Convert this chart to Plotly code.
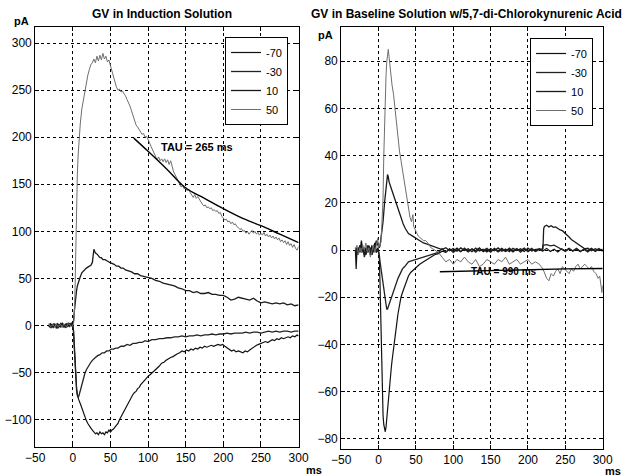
import plotly.graph_objects as go

# ---------------- DATA ----------------
legend_labels = ["-70", "-30", "10", "50"]
x_ticks = [-50, 0, 50, 100, 150, 200, 250, 300]
left_y_ticks = [-100, -50, 0, 50, 100, 150, 200, 250, 300]
right_y_ticks = [-80, -60, -40, -20, 0, 20, 40, 60, 80]

# Left panel: GV in Induction Solution  (t ms, current pA)
L_m70 = [(-32,0),(-30,-2),(-28,1),(-26,-1),(-24,2),(-22,-3),(-20,0),(-18,1),(-16,-2),(-14,2),(-12,-1),(-10,1),(-8,-2),(-6,3),(-4,0),(-2,2),(0,1),
 (1,-5),(2,-20),(3,-40),(4,-55),(5,-66),(6,-73),(7,-77),(8,-79),(10,-83),(12,-88),(14,-93),(16,-97),(18,-101),(20,-104),(22,-107),(24,-109),(26,-111),(28,-113),(30,-115),(32,-114),(34,-116),(36,-113),(38,-115),(40,-114),(42,-116),(44,-113),(46,-114),(48,-111),(50,-113),(52,-111),(54,-110),(56,-108),(58,-106),(60,-104),(62,-100),(64,-97),(66,-94),(68,-90),(70,-87),(72,-84),(74,-81),(76,-78),(78,-75),(80,-73),(82,-71),(84,-70),(86,-67),(88,-66),(90,-63),(92,-61),(94,-59),(96,-58),(98,-56),(100,-54),(103,-52),(106,-50),(109,-48),(112,-45),(115,-43),(118,-40),(121,-39),(124,-37),(127,-35),(130,-34),(133,-33),(136,-31),(139,-30),(142,-29),(145,-27),(148,-28),(151,-26),(154,-27),(157,-25),(160,-26),(163,-24),(166,-25),(169,-23),(172,-24),(175,-22),(178,-23),(181,-22),(184,-21),(187,-22),(190,-21),(193,-20),(196,-21),(199,-20),(202,-22),(205,-24),(208,-25),(211,-27),(214,-26),(217,-28),(220,-27),(223,-28),(226,-29),(229,-27),(232,-28),(235,-26),(238,-24),(241,-22),(244,-21),(247,-20),(250,-19),(253,-18),(256,-17),(259,-18),(262,-16),(265,-15),(268,-16),(271,-14),(274,-15),(277,-13),(280,-14),(283,-13),(286,-12),(289,-13),(292,-11),(295,-12),(298,-10),(300,-11)]

L_m30 = [(-32,1),(-30,0),(-28,-2),(-26,2),(-24,-1),(-22,1),(-20,-3),(-18,0),(-16,2),(-14,-1),(-12,1),(-10,-2),(-8,0),(-6,1),(-4,-1),(-2,3),(0,0),
 (1,-8),(2,-25),(3,-45),(4,-60),(5,-69),(6,-74),(7,-76),(8,-75),(9,-72),(10,-68),(11,-64),(12,-61),(14,-56),(16,-51),(18,-47),(20,-44),(22,-41),(24,-39),(26,-37),(28,-35),(30,-34),(33,-32),(36,-31),(39,-29),(42,-29),(45,-27),(48,-27),(51,-25),(54,-25),(57,-24),(60,-24),(64,-22),(68,-22),(72,-20),(76,-21),(80,-19),(84,-19),(88,-18),(92,-18),(96,-16),(100,-17),(105,-15),(110,-15),(115,-14),(120,-14),(125,-13),(130,-13),(135,-12),(140,-12),(145,-11),(150,-12),(155,-11),(160,-11),(165,-10),(170,-11),(175,-10),(180,-10),(185,-9),(190,-10),(195,-9),(200,-9),(205,-8),(210,-9),(215,-8),(220,-8),(225,-8),(230,-7),(235,-8),(240,-7),(245,-7),(250,-8),(255,-7),(260,-6),(265,-7),(270,-6),(275,-7),(280,-6),(285,-6),(290,-7),(295,-6),(300,-6)]

L_10 = [(-32,-1),(-30,2),(-28,0),(-26,-2),(-24,1),(-22,0),(-20,2),(-18,-1),(-16,0),(-14,3),(-12,-2),(-10,1),(-8,2),(-6,-1),(-4,2),(-2,0),(0,2),
 (1,5),(2,15),(3,25),(4,32),(5,37),(6,42),(8,48),(10,52),(12,56),(14,58),(16,60),(18,61),(20,62),(22,63),(24,64),(26,67),(27,75),(28,81),(29,79),(30,77),(32,76),(34,74),(36,72),(38,72),(40,70),(43,70),(46,68),(49,67),(52,66),(55,65),(58,63),(61,63),(64,61),(67,61),(70,59),(74,58),(78,57),(82,55),(86,55),(90,53),(95,52),(100,51),(105,50),(110,48),(115,47),(120,45),(125,44),(130,43),(135,42),(140,40),(145,39),(150,37),(155,37),(160,35),(165,36),(170,34),(175,34),(180,35),(185,33),(190,33),(195,32),(200,32),(205,30),(210,27),(215,28),(220,30),(225,29),(230,28),(235,27),(240,29),(245,26),(250,24),(255,25),(260,24),(265,23),(270,24),(275,23),(280,24),(285,22),(290,23),(295,21),(300,22)]

L_50 = [(-32,2),(-30,-1),(-28,0),(-26,1),(-24,-2),(-22,2),(-20,-1),(-18,0),(-16,1),(-14,-2),(-12,2),(-10,0),(-8,-1),(-6,2),(-4,1),(-2,-1),(0,0),
 (1,2),(2,10),(3,40),(4,90),(5,130),(6,160),(7,180),(8,195),(10,215),(12,230),(14,240),(16,250),(18,258),(20,266),(22,272),(24,277),(26,279),(28,283),(30,279),(32,286),(34,281),(36,287),(38,282),(40,289),(42,283),(44,286),(46,280),(48,282),(50,276),(52,270),(54,265),(56,259),(58,253),(60,250),(62,251),(64,248),(66,249),(68,246),(70,244),(72,240),(74,237),(76,233),(78,228),(80,223),(82,218),(84,213),(86,211),(88,208),(90,206),(92,203),(94,204),(96,200),(98,201),(100,198),(102,194),(104,190),(106,186),(108,182),(110,179),(112,176),(114,179),(116,175),(118,177),(120,174),(122,177),(124,173),(126,176),(128,171),(130,175),(132,168),(134,163),(136,160),(138,156),(140,152),(142,150),(144,147),(146,149),(148,145),(150,147),(152,143),(154,145),(156,141),(158,138),(160,136),(162,139),(164,135),(166,137),(168,134),(170,132),(172,129),(174,127),(176,128),(178,125),(180,126),(182,124),(184,125),(186,122),(188,123),(190,121),(192,122),(194,119),(196,120),(198,116),(200,114),(202,112),(204,113),(206,110),(208,111),(210,108),(212,110),(214,107),(216,108),(218,105),(220,104),(222,102),(224,103),(226,100),(228,101),(230,98),(232,100),(234,97),(236,99),(238,101),(240,98),(242,100),(244,97),(246,99),(248,96),(250,98),(252,96),(254,99),(256,95),(258,97),(260,94),(262,96),(264,93),(266,95),(268,92),(270,94),(272,91),(274,93),(276,89),(278,91),(280,88),(282,90),(284,86),(286,89),(288,85),(290,87),(292,83),(294,86),(296,82),(298,80),(300,84)]

L_fit = [(81,199),(100,185),(125,166),(150,146),(175,135),(200,124),(225,114),(250,106),(275,97),(300,88)]

# Right panel: GV in Baseline Solution w/5,7-di-Chlorokynurenic Acid
R_m70 = [(-31,0),(-30,-8),(-29,-1),(-27,1),(-25,-1),(-23,4),(-21,0),(-19,-2),(-17,1),(-15,-1),(-13,2),(-11,0),(-9,-2),(-7,1),(-5,3),(-3,-1),(-1,1),(0,0),
 (1,-3),(2,-15),(3,-30),(4,-50),(5,-64),(6,-70),(7,-74),(8,-76),(9,-77),(10,-75),(11,-71),(12,-67),(13,-63),(14,-59),(15,-56),(16,-53),(17,-50),(18,-47),(19,-44),(20,-41),(22,-36),(24,-32),(26,-27),(28,-23),(30,-20),(32,-18),(34,-16),(36,-14),(38,-12),(40,-11),(43,-9.5),(46,-8.5),(50,-7.5),(55,-6),(60,-5),(65,-4),(70,-3),(75,-2),(80,-1.5),(85,-0.5),(90,-1),(95,0.5),(100,-0.5),(105,0.8),(110,-0.6),(115,0.4),(120,-0.8),(125,0.6),(130,-0.3),(135,0.9),(140,-0.7),(145,0.2),(150,-0.9),(155,0.7),(160,-0.4),(165,0.8),(170,-0.6),(175,0.3),(180,-0.8),(185,0.5),(190,-0.2),(195,0.9),(200,-0.7),(205,0.4),(210,-0.5),(215,0.6),(220,-0.4),(225,0.7),(230,-0.6),(235,0.3),(240,-0.8),(245,0.6),(250,-0.3),(255,0.8),(260,-0.5),(265,0.4),(270,-0.7),(275,0.5),(280,-0.2),(285,0.8),(290,-0.6),(295,0.3),(300,-0.4)]

R_m30 = [(-31,1),(-29,-2),(-27,0),(-25,2),(-23,-1),(-21,1),(-19,-3),(-17,0),(-15,2),(-13,-1),(-11,1),(-9,-2),(-7,0),(-5,2),(-3,-1),(-1,0),(0,-1),
 (1,-2),(2,-5),(4,-10),(6,-14),(8,-19),(10,-23),(11,-25),(12,-25),(13,-24),(15,-22),(17,-20),(20,-18),(23,-15),(26,-12),(29,-10),(32,-8),(35,-7),(40,-5),(45,-4.5),(50,-4),(55,-3.5),(60,-3),(65,-2.5),(70,-2),(75,-1.5),(80,-1),(85,0.6),(90,-0.9),(95,0.4),(100,-1),(105,0.2),(110,-0.7),(115,0.8),(120,-0.5),(125,0.3),(130,-0.9),(135,0.5),(140,-0.2),(145,0.7),(150,-0.6),(155,0.4),(160,-0.8),(165,0.2),(170,-0.5),(175,0.8),(180,-0.3),(185,0.6),(190,-0.9),(195,0.3),(200,-0.4),(205,0.7),(210,-0.6),(215,0.2),(219,-0.3),(220,2),(225,2.3),(230,1.8),(235,2.1),(240,1.2),(245,0.4),(250,-0.6),(255,0.5),(260,-0.3),(265,0.7),(270,-0.5),(275,0.2),(280,-0.8),(285,0.4),(290,-0.2),(295,0.6),(300,-0.5)]

R_10 = [(-31,-1),(-29,1),(-27,-1),(-25,0),(-23,2),(-21,-1),(-19,1),(-17,-2),(-15,0),(-13,1),(-11,-2),(-9,2),(-7,-1),(-5,1),(-3,4),(-1,2),(0,1),
 (1,1),(2,2),(4,6),(6,12),(8,20),(10,27),(11,30),(12,32),(13,31),(14,29),(16,27),(18,25),(20,23),(22,21),(24,19),(26,17),(28,15),(30,13),(33,11),(36,9),(40,7),(45,6),(50,5),(55,4),(60,3),(65,2.5),(70,2),(75,1.5),(80,1),(85,0.2),(90,1),(95,-0.3),(100,0.6),(105,-0.5),(110,0.9),(115,-0.2),(120,0.5),(125,-0.7),(130,0.8),(135,-0.4),(140,0.3),(145,-0.8),(150,0.6),(155,-0.3),(160,0.9),(165,-0.5),(170,0.4),(175,-0.7),(180,0.7),(185,-0.2),(190,0.5),(195,-0.6),(200,0.8),(205,-0.4),(210,0.3),(215,0.5),(220,0.5),(221,9),(222,10),(225,10.5),(228,9.8),(231,10.3),(234,9.6),(237,9.8),(240,9),(243,8.5),(246,8.2),(249,7.4),(252,6.5),(255,5.5),(258,4.5),(261,3.8),(264,3),(267,2.4),(270,1.8),(273,1),(276,0.5),(280,0.8),(285,-0.3),(290,0.6),(295,-0.2),(300,0.4)]

R_50 = [(-31,0),(-29,2),(-27,-2),(-25,1),(-23,-1),(-21,2),(-19,0),(-17,3),(-15,-1),(-13,1),(-11,-3),(-9,0),(-7,2),(-5,-1),(-3,2),(-1,5),(0,1),
 (3,3),(4,8),(5,15),(6,22),(7,40),(8,55),(9,66),(10,74),(11,80),(12,84),(13,85),(14,82),(15,78),(16,75),(17,72),(18,70),(20,66),(22,60),(24,53),(26,46),(28,42),(30,38),(32,34),(34,29),(36,24),(38,20),(40,17),(42,14),(44,12),(46,15),(47,10),(48,9),(50,8),(53,6),(56,5),(60,4),(63,4),(66,3),(70,1),(75,0),(80,-1),(85,-3),(90,-5),(95,-4),(100,-6),(105,-4),(110,-5),(115,-3),(120,-5),(125,-6),(130,-4),(135,-7),(140,-6),(145,-4),(150,-5),(155,-6),(160,-4),(165,-5),(170,-3),(175,-6),(180,-5),(185,-4),(190,-6),(195,-5),(200,-4),(205,-6),(210,-5),(215,-6),(220,-8),(225,-12),(228,-13),(231,-10),(234,-11),(237,-9),(240,-8),(243,-10),(246,-7),(249,-8),(252,-9),(255,-10),(258,-8),(261,-9),(264,-7),(267,-6),(270,-8),(273,-7),(276,-6),(279,-7),(282,-8),(285,-7),(288,-9),(291,-10),(294,-12),(296,-11),(298,-16),(299,-18),(300,-15)]

R_fit = [(82,-9.2),(150,-8.6),(200,-8.3),(250,-8.0),(300,-7.8)]

# ---------------- FIGURE ----------------
colors = ["#111111", "#222222", "#1a1a1a", "#6e6e6e"]
widths = [1.2, 1.3, 1.3, 1.0]
FONT = "Arial, Liberation Sans, sans-serif"

fig = go.Figure()

def add_trace(pairs, name, color, width, xa, ya, legend, show=True, shape="linear"):
    fig.add_trace(go.Scatter(
        x=[p[0] for p in pairs], y=[p[1] for p in pairs], mode="lines",
        name=name, line=dict(color=color, width=width, shape=shape),
        xaxis=xa, yaxis=ya, legend=legend, showlegend=show))

for pairs, lab, c, w in zip([L_m70, L_m30, L_10, L_50], legend_labels, colors, widths):
    add_trace(pairs, lab, c, w, "x", "y", "legend")
add_trace(L_fit, "fit", "#000000", 1.4, "x", "y", "legend", show=False, shape="spline")

for pairs, lab, c, w in zip([R_m70, R_m30, R_10, R_50], legend_labels, colors, widths):
    add_trace(pairs, lab, c, w, "x2", "y2", "legend2")
add_trace(R_fit, "fit", "#000000", 1.4, "x2", "y2", "legend2", show=False)

W, H = 634, 476
axis_common = dict(
    showline=True, linecolor="black", linewidth=1, mirror="ticks",
    ticks="inside", ticklen=4, tickcolor="black",
    showgrid=True, gridcolor="black", gridwidth=1, griddash="dot",
    zeroline=False, tickfont=dict(family=FONT, size=12, color="black"),
)

legend_style = dict(xanchor="left", yanchor="top", bgcolor="white",
                    bordercolor="black", borderwidth=1,
                    font=dict(family=FONT, size=11, color="black"), tracegroupgap=0)

fig.update_layout(
    width=W, height=H, margin=dict(l=0, r=0, t=0, b=0),
    paper_bgcolor="white", plot_bgcolor="white",
    font=dict(family=FONT, size=12, color="black"),
    xaxis=dict(domain=[26/W, 298/W], range=[-50, 300], tickvals=x_ticks, anchor="y", **axis_common),
    yaxis=dict(domain=[1-447/H, 1-27/H], range=[-129, 317], tickvals=left_y_ticks, anchor="x", **axis_common),
    xaxis2=dict(domain=[342/W, 612/W], range=[-50, 300], tickvals=x_ticks, anchor="y2", **axis_common),
    yaxis2=dict(domain=[1-449/H, 1-27/H], range=[-84.3, 94.5], tickvals=right_y_ticks, anchor="x2", **axis_common),
    legend=dict(x=222/W, y=1-37/H, **legend_style),
    legend2=dict(x=537/W, y=1-38/H, **legend_style),
)

ann = [
    dict(text="<b>GV in Induction Solution</b>", x=157/W, y=1-14/H, size=12),
    dict(text="<b>GV in Baseline Solution w/5,7-di-Chlorokynurenic Acid</b>", x=471/W, y=1-14/H, size=12),
    dict(text="<b>pA</b>", x=12/W, y=1-21/H, size=11),
    dict(text="<b>pA</b>", x=326/W, y=1-35/H, size=11),
    dict(text="<b>ms</b>", x=314/W, y=1-470/H, size=11),
    dict(text="<b>ms</b>", x=623/W, y=1-471/H, size=11),
]
for a in ann:
    fig.add_annotation(text=a["text"], x=a["x"], y=a["y"], xref="paper", yref="paper",
                       showarrow=False, xanchor="center", yanchor="middle",
                       font=dict(family=FONT, size=a["size"], color="black"))

fig.add_annotation(text="<b>TAU = 265 ms</b>", x=165, y=190, xref="x", yref="y", showarrow=False,
                   font=dict(family=FONT, size=11, color="black"))
fig.add_annotation(text="<b>TAU = 990 ms</b>", x=168, y=-9, xref="x2", yref="y2", showarrow=False,
                   font=dict(family=FONT, size=10, color="black"))

fig.write_html("out.html")
